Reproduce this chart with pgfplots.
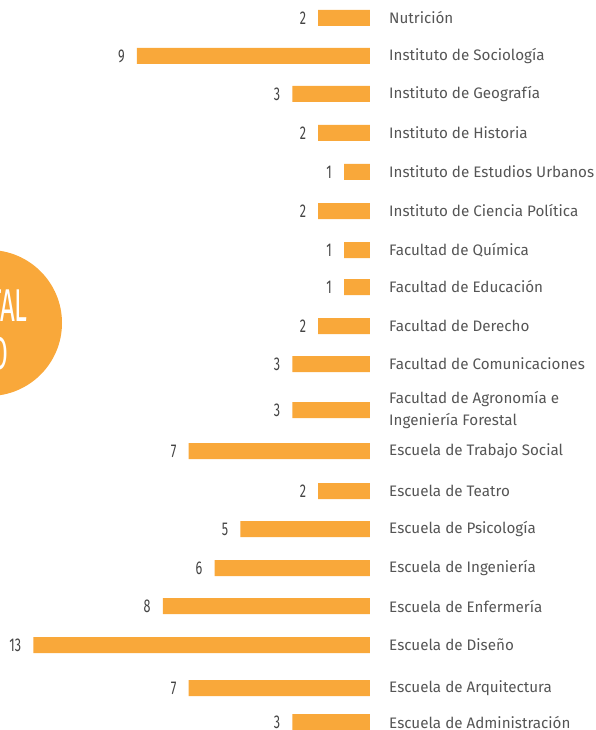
\documentclass[border=0pt]{standalone}
\usepackage{pgfplots}
\pgfplotsset{compat=1.18}
\usepackage{pgfplotstable}
\usepackage{fontspec}
\setmainfont{Fira Sans}
\definecolor{barorange}{HTML}{F9A83A}
\definecolor{labelgray}{HTML}{555555}
\definecolor{numgray}{HTML}{444444}

\pgfplotstableread{
y val
18 2
56 9
94 3
133 2
172 1
211 2
250 1
287 1
326 2
364 3
410 3
451 7
491 2
529 5
568 6
606 8
645 13
688 7
722 3
}\datatable

\begin{document}
\begin{tikzpicture}
\fill[barorange] (-11pt,407pt) circle (73pt);
\node[anchor=base east, text=white, inner sep=0pt, font=\fontsize{46}{46}\selectfont] at (28pt,408pt) {\scalebox{0.56}[1]{TOTAL}};
\node[anchor=base east, text=white, inner sep=0pt, font=\fontsize{46}{46}\selectfont] at (9pt,360pt) {\scalebox{0.56}[1]{POR CENTRO}};
\begin{axis}[
 at={(0,0)}, anchor=south west,
 width=596pt, height=730pt, scale only axis,
 xmin=-8.726, xmax=14.286, x dir=reverse,
 ymin=0, ymax=730, y dir=reverse,
 axis line style={draw=none},
 major tick length=0pt,
 xtick=\empty,
 ytick={18,56,94,133,172,211,250,287,326,364,410,451,491,529,568,606,645,688,722},
 yticklabels={Nutrición,Instituto de Sociología,Instituto de Geografía,Instituto de Historia,Instituto de Estudios Urbanos,Instituto de Ciencia Política,Facultad de Química,Facultad de Educación,Facultad de Derecho,Facultad de Comunicaciones,{Facultad de Agronomía e\\Ingeniería Forestal},Escuela de Trabajo Social,Escuela de Teatro,Escuela de Psicología,Escuela de Ingeniería,Escuela de Enfermería,Escuela de Diseño,Escuela de Arquitectura,Escuela de Administración},
 yticklabel pos=right,
 yticklabel style={anchor=west, xshift=-207pt, inner sep=0pt, align=left, font=\fontsize{15.2}{22}\selectfont, text=labelgray},
 xbar, bar width=16,
 /pgf/number format/assume math mode=true,
 nodes near coords={\scalebox{0.68}[1]{\pgfmathprintnumber{\pgfplotspointmeta}}},
 nodes near coords style={anchor=east, xshift=-12pt, inner sep=0pt, text=numgray, font=\fontsize{18.5}{18.5}\selectfont},
 clip=false,
]
\addplot[fill=barorange, draw=none] table[x=val, y=y] {\datatable};
\end{axis}
\pgfresetboundingbox
\path[use as bounding box] (0,0) rectangle (596pt,730pt);
\end{tikzpicture}
\end{document}
